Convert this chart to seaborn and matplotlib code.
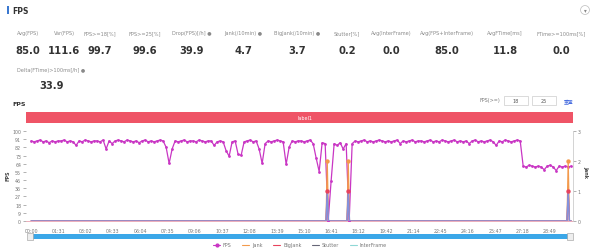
import matplotlib
matplotlib.use("Agg")
import matplotlib.pyplot as plt
import seaborn as sns
import pandas as pd
from matplotlib.patches import Rectangle
from matplotlib.lines import Line2D

# ---------------- data ----------------
metric_labels = ["Avg(FPS)", "Var(FPS)", "FPS>=18[%]", "FPS>=25[%]", "Drop(FPS)[/h]",
                 "Jank(/10min)", "BigJank(/10min)", "Stutter[%]", "Avg(InterFrame)",
                 "Avg(FPS+InterFrame)", "AvgFTime[ms]", "FTime>=100ms[%]"]
metric_values = ["85.0", "111.6", "99.7", "99.6", "39.9", "4.7", "3.7", "0.2", "0.0",
                 "85.0", "11.8", "0.0"]
metric_has_icon = [False, False, False, False, True, True, True, False, False, False, False, False]
extra_label = "Delta(FTime)>100ms[/h]"
extra_value = "33.9"

x_tick_labels = ["00:00", "01:31", "03:02", "04:33", "06:04", "07:35", "09:06", "10:37",
                 "12:08", "13:39", "15:10", "16:41", "18:12", "19:42", "21:14", "22:45",
                 "24:16", "25:47", "27:18", "28:49"]
x_tick_seconds = [0, 91, 182, 273, 364, 455, 546, 637, 728, 819, 910, 1001, 1092, 1182,
                  1274, 1365, 1456, 1547, 1638, 1729]
y_tick_values = [0, 9.09, 18.18, 27.27, 36.36, 45.45, 54.55, 63.64, 72.73, 81.82, 90.91, 100]
y_tick_labels = ["0", "9", "18", "27", "36", "46", "55", "64", "73", "82", "91", "100"]
jank_tick_values = [0, 1, 2, 3]

fps_time = list(range(0, 1801, 10))
fps_values = [
    89, 88, 89, 90, 88, 89, 87, 89, 88, 89,
    89, 90, 88, 89, 88, 84, 89, 88, 90, 89,
    88, 89, 89, 88, 90, 80, 89, 86, 89, 90,
    89, 88, 90, 89, 88, 89, 87, 89, 90, 88,
    89, 88, 89, 90, 89, 82, 64, 80, 89, 88,
    89, 90, 88, 89, 89, 88, 90, 89, 88, 89,
    89, 84, 88, 89, 88, 78, 72, 88, 89, 74,
    73, 88, 89, 90, 88, 89, 80, 64, 86, 89,
    88, 89, 90, 89, 88, 63, 82, 89, 88, 89,
    89, 88, 89, 90, 86, 70, 55, 87, 86, 0,
    45, 86, 84, 87, 80, 86, 0, 86, 89, 88,
    89, 90, 88, 89, 88, 89, 90, 89, 88, 89,
    88, 89, 90, 86, 89, 88, 89, 90, 88, 89,
    89, 88, 89, 90, 88, 89, 88, 90, 89, 88,
    89, 90, 88, 89, 88, 89, 86, 89, 90, 88,
    89, 88, 89, 90, 88, 84, 89, 88, 90, 89,
    88, 89, 90, 89, 61, 60, 62, 61, 60, 61,
    60, 57, 61, 62, 60, 56, 61, 60, 61, 60,
    61,
]

event_time = [0, 983, 987, 991, 1053, 1057, 1061, 1786, 1790, 1794, 1800]
jank_values = [0, 0, 2, 0, 0, 2, 0, 0, 2, 0, 0]
bigjank_values = [0, 0, 1, 0, 0, 1, 0, 0, 1, 0, 0]
stutter_values = [0, 0, 1, 0, 0, 1, 0, 0, 1, 0, 0]
interframe_values = [0, 0, 0, 0, 0, 0, 0, 0, 0, 0, 0]

# ---------------- style ----------------
sns.set_theme(style="white")
plt.rcParams['font.family'] = ['DejaVu Sans']

C_FPS = "#c936c4"
C_JANK = "#f39a4c"
C_BIG = "#e8435c"
C_STUT = "#8391dc"
C_INTER = "#8fd8d6"
C_RED = "#ef5466"
C_BLUE = "#3ba7e8"

W, H = 600, 251
fig = plt.figure(figsize=(6, 2.51), dpi=100)


def fx(x):
    return x / W


def fy(y):
    return 1 - y / H


# header
fig.add_artist(Rectangle((fx(7), fy(15)), 1.6 / W, 8 / H, transform=fig.transFigure,
                         color="#3a78d0", lw=0))
fig.text(fx(12), fy(11), "FPS", fontsize=5.5, fontweight="bold", color="#333333",
         va="center", ha="left")
fig.text(fx(585), fy(11), "\u25be", fontsize=4, color="#888888", ha="center", va="center",
         bbox=dict(boxstyle="circle,pad=0.35", fc="white", ec="#bbbbbb", lw=0.5))

centers = [28, 64, 100, 145, 192, 243, 297, 347, 391, 447, 505, 561]
for cx, lab, val, ic in zip(centers, metric_labels, metric_values, metric_has_icon):
    fig.text(fx(cx), fy(34), lab + (" \u25cf" if ic else ""), fontsize=3.6, color="#8a8a8a",
             ha="center", va="center")
    fig.text(fx(cx), fy(51), val, fontsize=7.2, fontweight="bold", color="#333333",
             ha="center", va="center")
fig.text(fx(51), fy(71), extra_label + " \u25cf", fontsize=3.6, color="#8a8a8a",
         ha="center", va="center")
fig.text(fx(52), fy(86), extra_value, fontsize=7.2, fontweight="bold", color="#333333",
         ha="center", va="center")

# chart section header
fig.text(fx(12), fy(104), "FPS", fontsize=4.5, fontweight="bold", color="#333333",
         ha="left", va="center")
fig.text(fx(480), fy(101), "FPS(>=)", fontsize=3.5, color="#777777", ha="left", va="center")
for bx, t in [(504, "18"), (532, "25")]:
    fig.add_artist(Rectangle((fx(bx), fy(106)), 24 / W, 9 / H, transform=fig.transFigure,
                             fc="white", ec="#cccccc", lw=0.5))
    fig.text(fx(bx + 12), fy(101.5), t, fontsize=3.5, color="#555555", ha="center", va="center")
fig.text(fx(569), fy(101.5), "重置", fontsize=3.5, color="#4a6fe0", ha="center", va="center",
         family=["Noto Sans CJK SC", "DejaVu Sans"])

# red label bar
fig.add_artist(Rectangle((fx(26), fy(124)), (573 - 26) / W, 11 / H, transform=fig.transFigure,
                         color=C_RED, lw=0))
fig.text(fx(298), fy(118.5), "label1", fontsize=3.5, color="white", ha="left", va="center")

# ---------------- main axes ----------------
ax = fig.add_axes([fx(26), fy(222), (573 - 26) / W, (222 - 132) / H])
df = pd.DataFrame({"t": fps_time, "fps": fps_values})
sns.lineplot(data=df, x="t", y="fps", ax=ax, color=C_FPS, lw=0.9, marker="o",
             markersize=2.0, markeredgewidth=0, zorder=3)
ax.set_xlim(-17, 1806)
ax.set_ylim(0, 100)
ax.set_yticks(y_tick_values)
ax.set_yticklabels(y_tick_labels)
ax.set_xticks(x_tick_seconds)
ax.set_xticklabels(x_tick_labels)
ax.set_xlabel("")
ax.set_ylabel("")
ax.tick_params(axis="both", labelsize=3.4, colors="#777777", length=2, width=0.4, pad=1.5)
ax.tick_params(axis="x", pad=3)
for s in ["top", "right", "left"]:
    ax.spines[s].set_visible(False)
ax.spines["bottom"].set_color("#e9a0b0")
ax.spines["bottom"].set_linewidth(0.6)
ax.grid(False)

ax2 = ax.twinx()
ev = pd.DataFrame({"t": event_time, "jank": jank_values, "big": bigjank_values,
                   "stut": stutter_values, "inter": interframe_values})
sns.lineplot(data=ev, x="t", y="inter", ax=ax2, color=C_INTER, lw=0.6)
sns.lineplot(data=ev, x="t", y="jank", ax=ax2, color=C_JANK, lw=0.9)
sns.lineplot(data=ev, x="t", y="big", ax=ax2, color=C_BIG, lw=0.9)
sns.lineplot(data=ev, x="t", y="stut", ax=ax2, color=C_STUT, lw=1.1)
evj = ev[ev["jank"] > 0]
evb = ev[ev["big"] > 0]
sns.scatterplot(data=evb, x="t", y="big", ax=ax2, color=C_BIG, s=10, linewidth=0, zorder=5)
sns.scatterplot(data=evj, x="t", y="jank", ax=ax2, color=C_JANK, s=10, linewidth=0, zorder=5)
ax2.set_ylim(0, 3)
ax2.set_xlim(-17, 1806)
ax2.set_yticks(jank_tick_values)
ax2.set_ylabel("")
ax2.set_xlabel("")
ax2.tick_params(axis="y", labelsize=3.4, colors="#777777", length=2, width=0.4, pad=1.5)
for s in ["top", "left", "bottom"]:
    ax2.spines[s].set_visible(False)
ax2.spines["right"].set_color("#cccccc")
ax2.spines["right"].set_linewidth(0.6)
ax2.grid(False)

fig.text(fx(8), fy(176), "FPS", fontsize=3.5, fontweight="bold", color="#444444",
         rotation=90, ha="center", va="center")
fig.text(fx(586), fy(172), "Jank", fontsize=3.5, fontweight="bold", color="#444444",
         rotation=270, ha="center", va="center")

# scrollbar
fig.add_artist(Rectangle((fx(28), fy(239.5)), (570 - 28) / W, 4.5 / H,
                         transform=fig.transFigure, color=C_BLUE, lw=0))
for hx in [30, 570]:
    fig.add_artist(Rectangle((fx(hx - 3), fy(241)), 6 / W, 7 / H, transform=fig.transFigure,
                             fc="#eeeeee", ec="#999999", lw=0.4))

# legend
handles = [
    Line2D([], [], color=C_FPS, marker="o", markersize=2, lw=0.8),
    Line2D([], [], color=C_JANK, lw=0.8),
    Line2D([], [], color=C_BIG, lw=0.8),
    Line2D([], [], color="#666677", lw=0.8),
    Line2D([], [], color=C_INTER, lw=0.8),
]
fig.legend(handles, ["FPS", "Jank", "BigJank", "Stutter", "InterFrame"], loc="center",
           bbox_to_anchor=(fx(300), fy(246)), ncol=5, fontsize=3.5, frameon=False,
           handlelength=1.4, columnspacing=2.2, handletextpad=0.6, labelcolor="#777777")

fig.savefig("out.png", dpi=100)
